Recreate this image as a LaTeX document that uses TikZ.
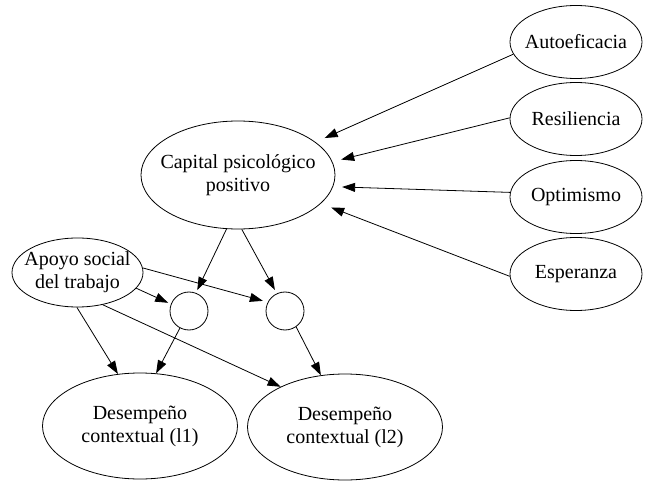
\documentclass[tikz,border=0pt]{standalone}
\usepackage{fontspec}
\setmainfont{Liberation Serif}
\usetikzlibrary{shapes.geometric,arrows.meta}
\begin{document}
\begin{tikzpicture}[x=1pt,y=-1pt,
  ell/.style={draw, ellipse, line width=0.8pt, inner sep=0pt},
  lbl/.style={inner sep=0pt, align=center, font=\fontsize{20}{23}\selectfont},
  circ/.style={draw, circle, line width=0.8pt, inner sep=0pt, minimum size=38pt},
  arr/.style={line width=0.8pt, -{Triangle[length=13pt,width=9pt]}}]
\useasboundingbox (0,0) rectangle (651,481);
\node[ell, minimum width=132pt, minimum height=73pt] (auto) at (576,42) {};
\node[ell, minimum width=132pt, minimum height=73pt] (res) at (576,119) {};
\node[ell, minimum width=132pt, minimum height=73pt] (opt) at (576,197) {};
\node[ell, minimum width=132pt, minimum height=73pt] (esp) at (576,274) {};
\node[ell, minimum width=194pt, minimum height=108pt] (cap) at (238,175) {};
\node[ell, minimum width=131pt, minimum height=69pt] (apo) at (77.5,272.5) {};
\node[circ] (c1) at (189,311) {};
\node[circ] (c2) at (285,311) {};
\node[ell, minimum width=195pt, minimum height=106pt] (d1) at (140,426) {};
\node[ell, minimum width=195pt, minimum height=106pt] (d2) at (345,427) {};
\node[lbl] (tauto) at (auto) {Autoeficacia};
\node[lbl] (tres) at (res) {Resiliencia};
\node[lbl] (topt) at (opt) {Optimismo};
\node[lbl] (tesp) at (esp) {Esperanza};
\node[lbl] (tcap) at (cap) {Capital psicológico\\positivo};
\node[lbl] (tapo) at (apo) {Apoyo social\\del trabajo};
\node[lbl] (td1) at (d1) {Desempeño\\contextual (l1)};
\node[lbl] (td2) at (d2) {Desempeño\\contextual (l2)};
\draw[arr, shorten >=10pt] (auto.191) -- (cap.23);
\draw[arr, shorten >=9pt] (res.179) -- (cap.8);
\draw[arr, shorten >=9pt] (opt.176) -- (cap.-7);
\draw[arr, shorten >=11pt] (esp.182) -- (cap.-19);
\draw[arr, shorten >=3pt] (cap.258) -- (c1.69);
\draw[arr, shorten >=4pt] (cap.274) -- (c2.115);
\draw[arr, shorten >=3pt] (apo.-15) -- (c1.159);
\draw[arr, shorten >=5pt] (apo.4) -- (c2.153);
\draw[arr] (apo.-91) -- (d1.113);
\draw[arr] (apo.-52) -- (d2.148);
\draw[arr] (c1.-118) -- (d1.73);
\draw[arr] (c2.-55) -- (d2.115);
\end{tikzpicture}
\end{document}
